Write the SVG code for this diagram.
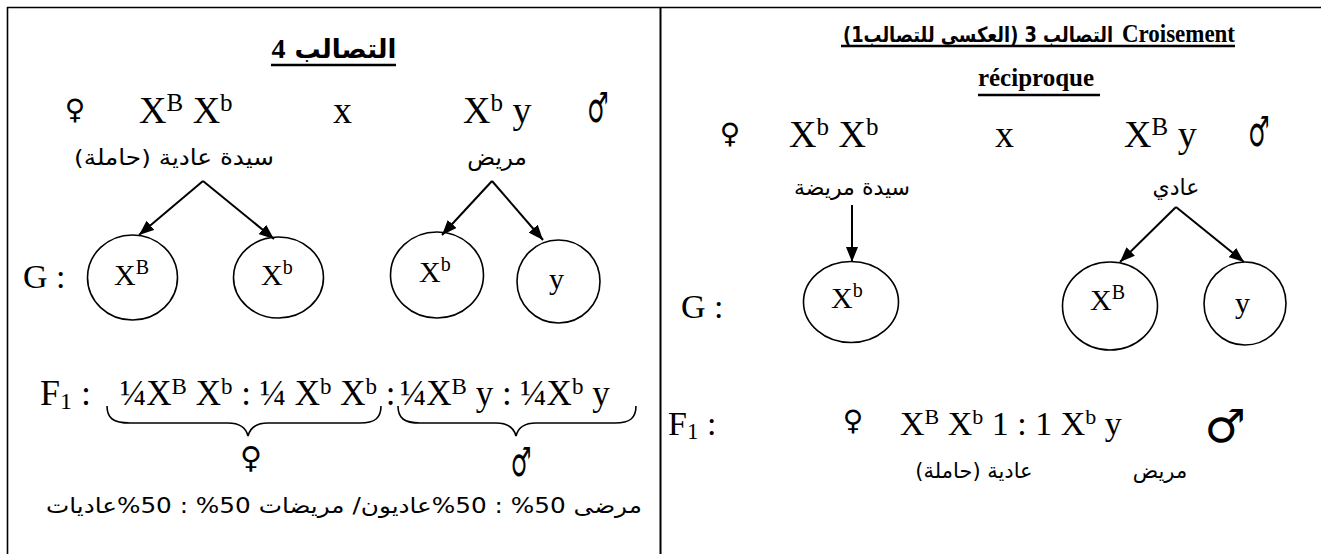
<svg xmlns="http://www.w3.org/2000/svg" width="1321" height="554" viewBox="0 0 1321 554">
<style>
.ln{stroke:#000;fill:none;stroke-width:1.6}
.ar2{stroke:#000;fill:none;stroke-width:2}
.t{font-family:"Liberation Serif","Times New Roman",serif;fill:#000}
.b{font-weight:bold}
.ar{font-family:"DejaVu Sans","Liberation Sans",sans-serif;fill:#000}
.sym{font-family:"DejaVu Sans",sans-serif;fill:#000}
.c{stroke:#000;fill:#fff;stroke-width:1.6}
</style>
<defs>
<marker id="ah" markerUnits="userSpaceOnUse" markerWidth="15" markerHeight="12" refX="15" refY="6" orient="auto">
<path d="M0,0 L15,6 L0,12 z" fill="#000"/>
</marker>
</defs>
<rect width="1321" height="554" fill="#fff"/>
<g id="frame">
<line class="ln" x1="7" y1="7.5" x2="1321" y2="7.5"/>
<line class="ln" x1="7.5" y1="7" x2="7.5" y2="554"/>
<line class="ar2" x1="660.5" y1="7" x2="660.5" y2="554"/>
</g>

<!-- LEFT PANEL -->
<g id="title4">
<text class="ar b" x="334" y="58" font-size="26" direction="rtl" text-anchor="middle">التصالب <tspan class="t" font-size="28">4</tspan></text>
<line x1="271" y1="65" x2="396" y2="65" stroke="#000" stroke-width="2.5"/>
</g>
<g id="parents4">
<text class="sym" x="75" y="119" font-size="28" text-anchor="middle">♀</text>
<text class="t" x="139" y="123" font-size="38">X<tspan font-size="25" dy="-12">B</tspan><tspan dy="12"> X</tspan><tspan font-size="25" dy="-12">b</tspan></text>
<text class="t" x="333" y="123" font-size="38">x</text>
<text class="t" x="463" y="123" font-size="38">X<tspan font-size="25" dy="-12">b</tspan><tspan dy="12"> y</tspan></text>
<text class="sym" transform="translate(598,122) scale(0.85,1.5)" font-size="28" text-anchor="middle">♂</text>
<text class="ar" x="174" y="165" font-size="22" direction="rtl" text-anchor="middle" textLength="200" lengthAdjust="spacingAndGlyphs">سيدة عادية (حاملة)</text>
<text class="ar" x="497" y="165" font-size="23" direction="rtl" text-anchor="middle">مريض</text>
</g>
<g id="gametes4">
<text class="t" x="23" y="288" font-size="34">G :</text>
<g id="g4a"><ellipse class="c" cx="132.5" cy="277.5" rx="45" ry="42.5"/><text class="t" x="114" y="285" font-size="30">X<tspan font-size="20" dy="-11">B</tspan></text></g>
<g id="g4b"><ellipse class="c" cx="278.5" cy="277.5" rx="45" ry="40.5"/><text class="t" x="261" y="285" font-size="30">X<tspan font-size="20" dy="-11">b</tspan></text></g>
<g id="g4c"><ellipse class="c" cx="437" cy="275" rx="46.5" ry="43"/><text class="t" x="419" y="282" font-size="30">X<tspan font-size="20" dy="-11">b</tspan></text></g>
<g id="g4d"><ellipse class="c" cx="558.5" cy="281.5" rx="41.5" ry="41.5"/><text class="t" x="549" y="289" font-size="30">y</text></g>
</g>
<g id="f1left">
<text class="t" x="40" y="405" font-size="36">F<tspan font-size="24" dy="4">1</tspan><tspan dy="-4"> :</tspan></text>
<text class="t" x="120" y="405" font-size="35">¼X<tspan font-size="23" dy="-11">B</tspan><tspan dy="11"> X</tspan><tspan font-size="23" dy="-11">b</tspan><tspan dy="11"> : ¼ X</tspan><tspan font-size="23" dy="-11">b</tspan><tspan dy="11"> X</tspan><tspan font-size="23" dy="-11">b</tspan><tspan dy="11"> :</tspan></text>
<text class="t" x="400" y="405" font-size="35">¼X<tspan font-size="23" dy="-11">B</tspan><tspan dy="11"> y : ¼X</tspan><tspan font-size="23" dy="-11">b</tspan><tspan dy="11"> y</tspan></text>
<path class="ln" d="M107,406 C107,418 113,423 130,423 L228,423 C240,423 246,428 248,436 C250,428 256,423 268,423 L360,423 C375,423 381,418 381,406"/>
<path class="ln" d="M398,406 C398,418 404,423 420,423 L496,423 C508,423 514,428 516,436 C518,428 524,423 536,423 L615,423 C630,423 636,418 636,406"/>
<text class="sym" x="251" y="468" font-size="30" text-anchor="middle">♀</text>
<text class="sym" transform="translate(521,476) scale(0.85,1.5)" font-size="27" text-anchor="middle">♂</text>
<text class="ar" x="344" y="513" font-size="21" direction="rtl" text-anchor="middle" textLength="596" lengthAdjust="spacingAndGlyphs">مرضى 50% : 50%عاديون/ مريضات 50% : 50%عاديات</text>
</g>

<!-- RIGHT PANEL -->
<g id="title3">
<text class="ar b" x="978" y="42" font-size="21" direction="rtl" text-anchor="middle" textLength="270" lengthAdjust="spacingAndGlyphs">التصالب 3 (العكسي للتصالب1)</text>
<text class="t b" x="1122" y="42" font-size="25" textLength="113" lengthAdjust="spacingAndGlyphs">Croisement</text>
<line x1="841" y1="46" x2="1235" y2="46" stroke="#000" stroke-width="2.5"/>
<text class="t b" x="1036" y="86" font-size="25" text-anchor="middle">réciproque</text>
<line x1="978" y1="95" x2="1100" y2="95" stroke="#000" stroke-width="2.5"/>
</g>
<g id="parents3">
<text class="sym" x="730" y="143" font-size="28" text-anchor="middle">♀</text>
<text class="t" x="789" y="147" font-size="38">X<tspan font-size="25" dy="-12">b</tspan><tspan dy="12"> X</tspan><tspan font-size="25" dy="-12">b</tspan></text>
<text class="t" x="995" y="147" font-size="38">x</text>
<text class="t" x="1124" y="147" font-size="38">X<tspan font-size="25" dy="-12">B</tspan><tspan dy="12"> y</tspan></text>
<text class="sym" transform="translate(1259,146) scale(0.85,1.5)" font-size="28" text-anchor="middle">♂</text>
<text class="ar" x="852" y="195" font-size="22" direction="rtl" text-anchor="middle">سيدة مريضة</text>
<text class="ar" x="1176" y="195" font-size="22" direction="rtl" text-anchor="middle">عادي</text>
</g>
<g id="gametes3">
<text class="t" x="681" y="318" font-size="34">G :</text>
<g id="g3a"><ellipse class="c" cx="851" cy="302" rx="47.5" ry="40.5"/><text class="t" x="831" y="308" font-size="30">X<tspan font-size="20" dy="-11">b</tspan></text></g>
<g id="g3b"><ellipse class="c" cx="1110" cy="306" rx="47.5" ry="44"/><text class="t" x="1090" y="310" font-size="30">X<tspan font-size="20" dy="-11">B</tspan></text></g>
<g id="g3c"><ellipse class="c" cx="1245" cy="303.5" rx="41" ry="41.5"/><text class="t" x="1235" y="313" font-size="30">y</text></g>
</g>
<g id="f1right">
<text class="t" x="668" y="435" font-size="34">F<tspan font-size="23" dy="4">1</tspan><tspan dy="-4"> :</tspan></text>
<text class="sym" x="853" y="430" font-size="28" text-anchor="middle">♀</text>
<text class="t" x="900" y="435" font-size="34">X<tspan font-size="22" dy="-11">B</tspan><tspan dy="11"> X</tspan><tspan font-size="22" dy="-11">b</tspan><tspan dy="11">  1 : 1  X</tspan><tspan font-size="22" dy="-11">b</tspan><tspan dy="11"> y</tspan></text>
<text class="sym" x="1225" y="442" font-size="46" text-anchor="middle">♂</text>
<text class="ar" x="974" y="478" font-size="21" direction="rtl" text-anchor="middle">عادية (حاملة)</text>
<text class="ar" x="1160" y="478" font-size="21" direction="rtl" text-anchor="middle">مريض</text>
</g>

<g id="connectors">
<line class="ar2" x1="203" y1="181" x2="139" y2="235" marker-end="url(#ah)"/>
<line class="ar2" x1="203" y1="181" x2="274" y2="239" marker-end="url(#ah)"/>
<line class="ar2" x1="492" y1="181" x2="442" y2="235" marker-end="url(#ah)"/>
<line class="ar2" x1="492" y1="181" x2="543" y2="240" marker-end="url(#ah)"/>
<line class="ar2" x1="852" y1="205" x2="852" y2="262" marker-end="url(#ah)"/>
<line class="ar2" x1="1176" y1="207" x2="1120" y2="262" marker-end="url(#ah)"/>
<line class="ar2" x1="1176" y1="207" x2="1244" y2="262" marker-end="url(#ah)"/>
</g>
</svg>
